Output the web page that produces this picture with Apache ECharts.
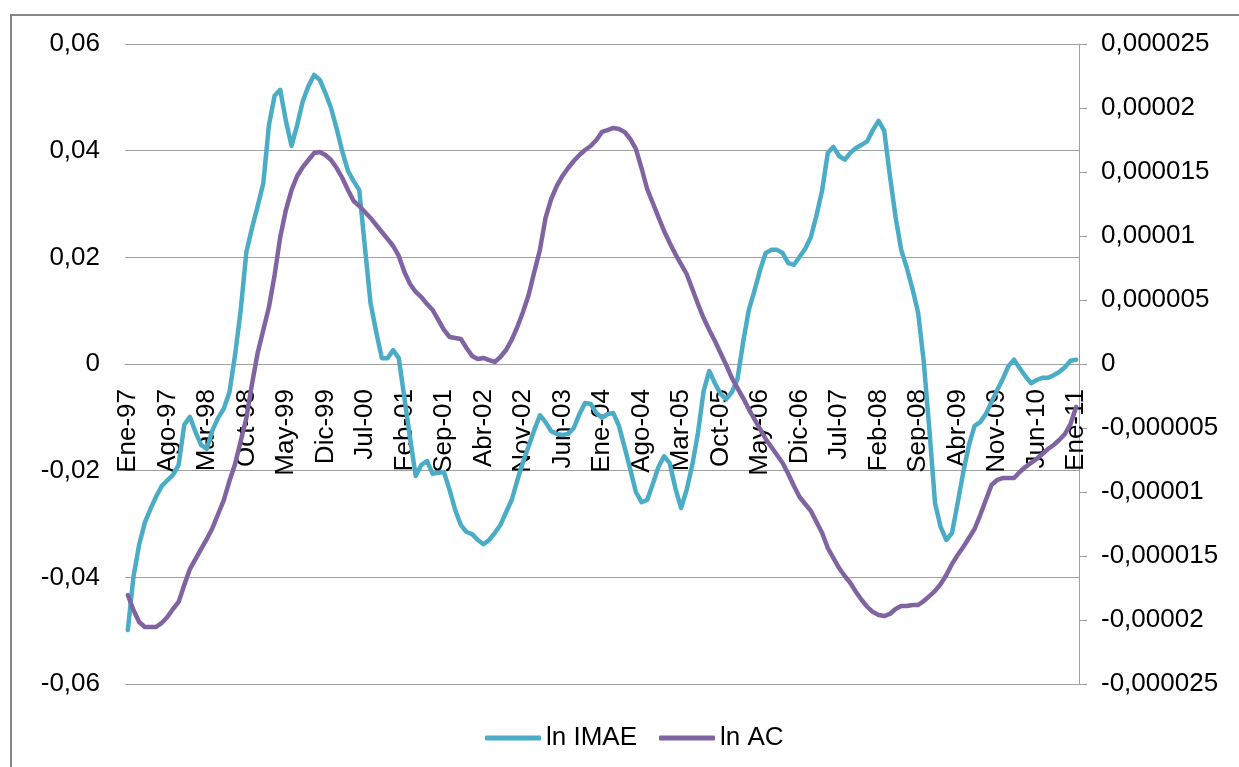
<!DOCTYPE html>
<html>
<head>
<meta charset="utf-8">
<script src="https://cdn.jsdelivr.net/npm/echarts@6/dist/echarts.min.js"></script>
<style>
html,body{margin:0;padding:0;background:#fff;}
#chart{width:1239px;height:767px;}
</style>
</head>
<body>
<div id="chart"></div>
<script>
// ---- data ----
const monthNames = ['Ene','Feb','Mar','Abr','May','Jun','Jul','Ago','Sep','Oct','Nov','Dic'];
const years = ['97','98','99','00','01','02','03','04','05','06','07','08','09','10','11'];
const categories = [];
for (let y = 0; y < years.length; y++) {
  for (let m = 0; m < 12; m++) {
    if (y === years.length - 1 && m > 0) break;
    categories.push(monthNames[m] + '-' + years[y]);
  }
}

const seriesNames = ['ln IMAE', 'ln AC'];

// ln IMAE (left axis)
const imae = [
 -0.0499,-0.0399,-0.0339,-0.0298,-0.0272,-0.0249,-0.0229,-0.0218,-0.0208,-0.0189,
 -0.0114,-0.0099,-0.0128,-0.0152,-0.0159,-0.0124,-0.0101,-0.0084,-0.0053,0.0017,
 0.0101,0.0210,0.0255,0.0296,0.0339,0.0448,0.0503,0.0514,0.0456,0.0409,
 0.0448,0.0493,0.0521,0.0542,0.0533,0.0508,0.0480,0.0441,0.0398,0.0362,
 0.0343,0.0326,0.0219,0.0114,0.0060,0.0011,0.0011,0.0026,0.0011,-0.0064,
 -0.0139,-0.0210,-0.0189,-0.0182,-0.0206,-0.0204,-0.0203,-0.0236,-0.0274,-0.0302,
 -0.0315,-0.0319,-0.0330,-0.0338,-0.0330,-0.0317,-0.0302,-0.0278,-0.0255,-0.0218,
 -0.0184,-0.0154,-0.0124,-0.0096,-0.0109,-0.0126,-0.0131,-0.0133,-0.0131,-0.0120,
 -0.0094,-0.0073,-0.0075,-0.0092,-0.0101,-0.0094,-0.0092,-0.0116,-0.0156,-0.0197,
 -0.0240,-0.0259,-0.0255,-0.0225,-0.0193,-0.0173,-0.0186,-0.0233,-0.0270,-0.0236,
 -0.0189,-0.0129,-0.0051,-0.0013,-0.0036,-0.0056,-0.0066,-0.0053,-0.0028,0.0041,
 0.0101,0.0137,0.0176,0.0208,0.0214,0.0214,0.0208,0.0189,0.0186,0.0201,
 0.0216,0.0238,0.0279,0.0326,0.0396,0.0407,0.0390,0.0383,0.0396,0.0405,
 0.0411,0.0418,0.0439,0.0456,0.0437,0.0353,0.0276,0.0214,0.0180,0.0141,
 0.0096,0.0004,-0.0124,-0.0261,-0.0306,-0.0330,-0.0317,-0.0261,-0.0203,-0.0152,
 -0.0116,-0.0109,-0.0094,-0.0071,-0.0049,-0.0028,-0.0004,0.0008,-0.0008,-0.0023,
 -0.0036,-0.0030,-0.0026,-0.0026,-0.0021,-0.0015,-0.0006,0.0006,0.0008
];

// ln AC (right axis)
const ac = [
 -18.05e-6,-19.22e-6,-20.16e-6,-20.55e-6,-20.55e-6,-20.55e-6,-20.23e-6,-19.77e-6,-19.14e-6,-18.59e-6,
 -17.27e-6,-16.02e-6,-15.23e-6,-14.45e-6,-13.67e-6,-12.81e-6,-11.72e-6,-10.63e-6,-9.14e-6,-7.81e-6,
 -6.02e-6,-4.22e-6,-1.56e-6,0.86e-6,2.66e-6,4.45e-6,6.95e-6,9.92e-6,12.03e-6,13.59e-6,
 14.69e-6,15.39e-6,15.94e-6,16.48e-6,16.56e-6,16.33e-6,15.94e-6,15.31e-6,14.53e-6,13.59e-6,
 12.73e-6,12.34e-6,11.88e-6,11.41e-6,10.86e-6,10.31e-6,9.77e-6,9.22e-6,8.44e-6,7.19e-6,
 6.25e-6,5.63e-6,5.23e-6,4.69e-6,4.22e-6,3.44e-6,2.66e-6,2.11e-6,2.03e-6,1.95e-6,
 1.25e-6,0.63e-6,0.39e-6,0.47e-6,0.31e-6,0.16e-6,0.55e-6,1.09e-6,1.88e-6,2.89e-6,
 4.06e-6,5.39e-6,7.19e-6,8.91e-6,11.41e-6,12.89e-6,13.91e-6,14.69e-6,15.31e-6,15.86e-6,
 16.33e-6,16.72e-6,17.03e-6,17.50e-6,18.13e-6,18.28e-6,18.44e-6,18.36e-6,18.13e-6,17.58e-6,
 16.80e-6,15.31e-6,13.67e-6,12.58e-6,11.48e-6,10.39e-6,9.45e-6,8.59e-6,7.81e-6,7.03e-6,
 5.86e-6,4.69e-6,3.59e-6,2.66e-6,1.80e-6,0.86e-6,-0.08e-6,-1.09e-6,-1.88e-6,-2.66e-6,
 -3.52e-6,-4.30e-6,-5.08e-6,-5.86e-6,-6.48e-6,-7.11e-6,-7.73e-6,-8.59e-6,-9.53e-6,-10.39e-6,
 -10.94e-6,-11.48e-6,-12.34e-6,-13.20e-6,-14.38e-6,-15.16e-6,-15.94e-6,-16.56e-6,-17.11e-6,-17.81e-6,
 -18.44e-6,-18.98e-6,-19.38e-6,-19.61e-6,-19.69e-6,-19.53e-6,-19.14e-6,-18.91e-6,-18.91e-6,-18.83e-6,
 -18.83e-6,-18.52e-6,-18.13e-6,-17.73e-6,-17.19e-6,-16.48e-6,-15.63e-6,-14.92e-6,-14.30e-6,-13.59e-6,
 -12.89e-6,-11.80e-6,-10.63e-6,-9.45e-6,-9.06e-6,-8.91e-6,-8.91e-6,-8.91e-6,-8.44e-6,-8.05e-6,
 -7.73e-6,-7.42e-6,-7.03e-6,-6.64e-6,-6.33e-6,-5.94e-6,-5.47e-6,-4.69e-6,-3.36e-6
];

// tick labels
const leftTicks = [-0.06,-0.04,-0.02,0,0.02,0.04,0.06];
const leftTickLabels = ['-0,06','-0,04','-0,02','0','0,02','0,04','0,06'];
const rightTicks = [-0.000025,-0.00002,-0.000015,-0.00001,-0.000005,0,0.000005,0.00001,0.000015,0.00002,0.000025];
const rightTickLabels = ['-0,000025','-0,00002','-0,000015','-0,00001','-0,000005','0','0,000005','0,00001','0,000015','0,00002','0,000025'];

function labelFor(ticks, labels, v) {
  let best = 0, bd = Infinity;
  for (let i = 0; i < ticks.length; i++) {
    const d = Math.abs(ticks[i] - v);
    if (d < bd) { bd = d; best = i; }
  }
  return labels[best];
}

const FONT = '"Liberation Sans", Arial, sans-serif';
const chart = echarts.init(document.getElementById('chart'), null, {renderer: 'canvas'});
chart.setOption({
  animation: false,
  backgroundColor: '#ffffff',
  graphic: [{
    type: 'rect',
    shape: {x: 11, y: 15, width: 1240, height: 760},
    style: {fill: 'none', stroke: '#868686', lineWidth: 2},
    silent: true, z: -10
  }],
  grid: {left: 125, right: 160, top: 44, height: 640, containLabel: false, outerBoundsMode: 'none'},
  legend: {
    data: seriesNames,
    left: 485,
    top: 725,
    padding: 0,
    icon: 'roundRect',
    itemWidth: 56,
    itemHeight: 5,
    itemGap: 22,
    textStyle: {fontFamily: FONT, fontSize: 26, color: '#000'}
  },
  xAxis: {
    type: 'category',
    data: categories,
    boundaryGap: true,
    position: 'bottom',
    offset: -320,
    axisLine: {show: true, onZero: false, lineStyle: {color: '#a0a0a0', width: 1}},
    axisTick: {show: false},
    axisLabel: {
      interval: 6,
      rotate: 90,
      margin: 25,
      fontFamily: FONT,
      fontSize: 26,
      color: '#000'
    },
    splitLine: {show: false}
  },
  yAxis: [{
    type: 'value',
    min: -0.06, max: 0.06, interval: 0.02,
    position: 'left',
    axisLine: {show: false},
    axisTick: {show: false},
    axisLabel: {
      margin: 25,
      fontFamily: FONT, fontSize: 26, color: '#000',
      formatter: v => labelFor(leftTicks, leftTickLabels, v)
    },
    splitLine: {show: true, lineStyle: {color: '#a0a0a0', width: 1}}
  }, {
    type: 'value',
    min: -0.000025, max: 0.000025, interval: 0.000005,
    position: 'right',
    axisLine: {show: true, onZero: false, lineStyle: {color: '#a0a0a0', width: 1}},
    axisTick: {show: true, inside: false, length: 8, lineStyle: {color: '#a0a0a0'}},
    axisLabel: {
      margin: 22,
      fontFamily: FONT, fontSize: 26, color: '#000',
      formatter: v => labelFor(rightTicks, rightTickLabels, v)
    },
    splitLine: {show: false}
  }],
  series: [{
    name: seriesNames[0],
    type: 'line',
    yAxisIndex: 0,
    data: imae,
    showSymbol: false,
    symbol: 'none',
    smooth: false,
    color: '#4bacc6',
    lineStyle: {color: '#4bacc6', width: 4.5, join: 'round', cap: 'round'},
    z: 3
  }, {
    name: seriesNames[1],
    type: 'line',
    yAxisIndex: 1,
    data: ac,
    showSymbol: false,
    symbol: 'none',
    smooth: false,
    color: '#8064a2',
    lineStyle: {color: '#8064a2', width: 4.5, join: 'round', cap: 'round'},
    z: 4
  }]
});
</script>
</body>
</html>
